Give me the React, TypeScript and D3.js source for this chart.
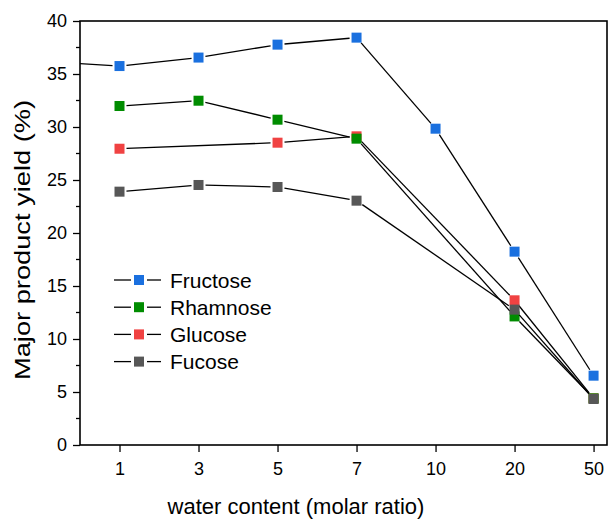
import { useEffect, useRef } from "react"
import * as d3 from "d3"

// categories on the x axis (water content, molar ratio)
const waterContent = ["1", "3", "5", "7", "10", "20", "50"]

// yields in %, null where the series has no point
const fructose = [35.75, 36.55, 37.77, 38.43, 29.84, 18.24, 6.54]
const fructoseLead = 36.2 // point left of the visible range, only its line enters the plot
const rhamnose = [31.98, 32.48, 30.69, 28.9, null, 12.13, 4.4]
const glucose = [27.95, null, 28.52, 29.12, null, 13.65, 4.4]
const fucose = [23.9, 24.53, 24.34, 23.05, null, 12.77, 4.34]

const yTicks = [0, 5, 10, 15, 20, 25, 30, 35, 40]

interface Series {
  name: string
  color: string
  values: (number | null)[]
  lead?: number
}

const series: Series[] = [
  { name: "Fructose", color: "#1a70df", values: fructose, lead: fructoseLead },
  { name: "Rhamnose", color: "#008c00", values: rhamnose },
  { name: "Glucose", color: "#f04242", values: glucose },
  { name: "Fucose", color: "#575757", values: fucose },
]

// markers later in this list sit on top
const drawOrder = ["Fructose", "Glucose", "Rhamnose", "Fucose"]

const FONT = "'Liberation Sans', Arial, sans-serif"

const App = () => {
  const svgRef = useRef<SVGSVGElement | null>(null)

  useEffect(() => {
    if (!svgRef.current) return
    const svg = d3.select(svgRef.current)
    svg.selectAll("*").remove()

    const left = 80
    const right = 607
    const top = 21
    const bottom = 445

    const x = d3.scaleLinear().domain([-0.5, 6.17]).range([left, right])
    const y = d3.scaleLinear().domain([0, 40]).range([bottom, top])

    // clip region for data
    svg
      .append("defs")
      .append("clipPath")
      .attr("id", "plot-clip")
      .append("rect")
      .attr("x", left)
      .attr("y", top)
      .attr("width", right - left)
      .attr("height", bottom - top)

    // Y axis
    const yAxis = svg
      .append("g")
      .attr("transform", `translate(${left},0)`)
      .call(
        d3
          .axisLeft(y)
          .tickValues(yTicks)
          .tickSize(7)
          .tickSizeOuter(0)
          .tickPadding(6)
          .tickFormat((d) => String(d)),
      )
    yAxis.select(".domain").remove()
    yAxis.selectAll("line").attr("stroke", "#000").attr("stroke-width", 1.3)
    yAxis
      .selectAll("text")
      .attr("font-family", FONT)
      .attr("font-size", 18)
      .attr("fill", "#000")

    // minor y ticks
    svg
      .append("g")
      .selectAll("line")
      .data(d3.range(2.5, 40, 5))
      .join("line")
      .attr("x1", left - 4)
      .attr("x2", left)
      .attr("y1", (d) => y(d))
      .attr("y2", (d) => y(d))
      .attr("stroke", "#000")
      .attr("stroke-width", 1.3)

    // X axis
    const xAxis = svg
      .append("g")
      .attr("transform", `translate(0,${bottom})`)
      .call(
        d3
          .axisBottom(x)
          .tickValues(d3.range(waterContent.length))
          .tickSize(7)
          .tickSizeOuter(0)
          .tickPadding(10)
          .tickFormat((d) => waterContent[d as number]),
      )
    xAxis.select(".domain").remove()
    xAxis.selectAll("line").attr("stroke", "#000").attr("stroke-width", 1.3)
    xAxis
      .selectAll("text")
      .attr("font-family", FONT)
      .attr("font-size", 18)
      .attr("fill", "#000")

    // frame
    svg
      .append("rect")
      .attr("x", left)
      .attr("y", top)
      .attr("width", right - left)
      .attr("height", bottom - top)
      .attr("fill", "none")
      .attr("stroke", "#000")
      .attr("stroke-width", 1.6)

    // data
    const gap = 7
    const data = svg.append("g").attr("clip-path", "url(#plot-clip)")
    const ordered = drawOrder.map((n) => series.find((s) => s.name === n)!)

    ordered.forEach((s) => {
      const pts: { i: number; v: number }[] = []
      if (s.lead !== undefined) pts.push({ i: -1, v: s.lead })
      s.values.forEach((v, i) => {
        if (v !== null) pts.push({ i, v })
      })

      const segs = d3.pairs(pts).map(([a, b]) => {
        const x1 = x(a.i)
        const y1 = y(a.v)
        const x2 = x(b.i)
        const y2 = y(b.v)
        const len = Math.hypot(x2 - x1, y2 - y1)
        const ux = (x2 - x1) / len
        const uy = (y2 - y1) / len
        return {
          x1: x1 + ux * gap,
          y1: y1 + uy * gap,
          x2: x2 - ux * gap,
          y2: y2 - uy * gap,
        }
      })

      data
        .append("g")
        .selectAll("line")
        .data(segs)
        .join("line")
        .attr("x1", (d) => d.x1)
        .attr("y1", (d) => d.y1)
        .attr("x2", (d) => d.x2)
        .attr("y2", (d) => d.y2)
        .attr("stroke", "#000")
        .attr("stroke-width", 1.3)

      data
        .append("g")
        .selectAll("rect")
        .data(pts)
        .join("rect")
        .attr("x", (d) => x(d.i) - 5)
        .attr("y", (d) => y(d.v) - 5)
        .attr("width", 10)
        .attr("height", 10)
        .attr("fill", s.color)
    })

    // legend
    const legend = svg.append("g").attr("transform", "translate(114,280)")
    series.forEach((s, i) => {
      const row = legend.append("g").attr("transform", `translate(0,${i * 27.2})`)
      row
        .append("line")
        .attr("x1", 0)
        .attr("x2", 17)
        .attr("y1", 0)
        .attr("y2", 0)
        .attr("stroke", "#000")
        .attr("stroke-width", 1.3)
      row
        .append("line")
        .attr("x1", 33)
        .attr("x2", 47)
        .attr("y1", 0)
        .attr("y2", 0)
        .attr("stroke", "#000")
        .attr("stroke-width", 1.3)
      row
        .append("rect")
        .attr("x", 20)
        .attr("y", -5)
        .attr("width", 10)
        .attr("height", 10)
        .attr("fill", s.color)
      row
        .append("text")
        .attr("x", 56)
        .attr("y", 0)
        .attr("dy", "0.36em")
        .attr("font-family", FONT)
        .attr("font-size", 21)
        .attr("fill", "#000")
        .text(s.name)
    })

    // axis titles
    svg
      .append("text")
      .attr("x", 296)
      .attr("y", 514)
      .attr("text-anchor", "middle")
      .attr("font-family", FONT)
      .attr("font-size", 22)
      .attr("fill", "#000")
      .text("water content (molar ratio)")

    svg
      .append("text")
      .attr("transform", "translate(30,240) rotate(-90)")
      .attr("text-anchor", "middle")
      .attr("font-family", FONT)
      .attr("font-size", 22)
      .attr("textLength", 280)
      .attr("lengthAdjust", "spacingAndGlyphs")
      .attr("fill", "#000")
      .text("Major product yield (%)")
  }, [])

  return (
    <svg
      ref={svgRef}
      width={608}
      height={521}
      style={{ position: "absolute", left: 0, top: 0, background: "#fff" }}
    />
  )
}

export default App
